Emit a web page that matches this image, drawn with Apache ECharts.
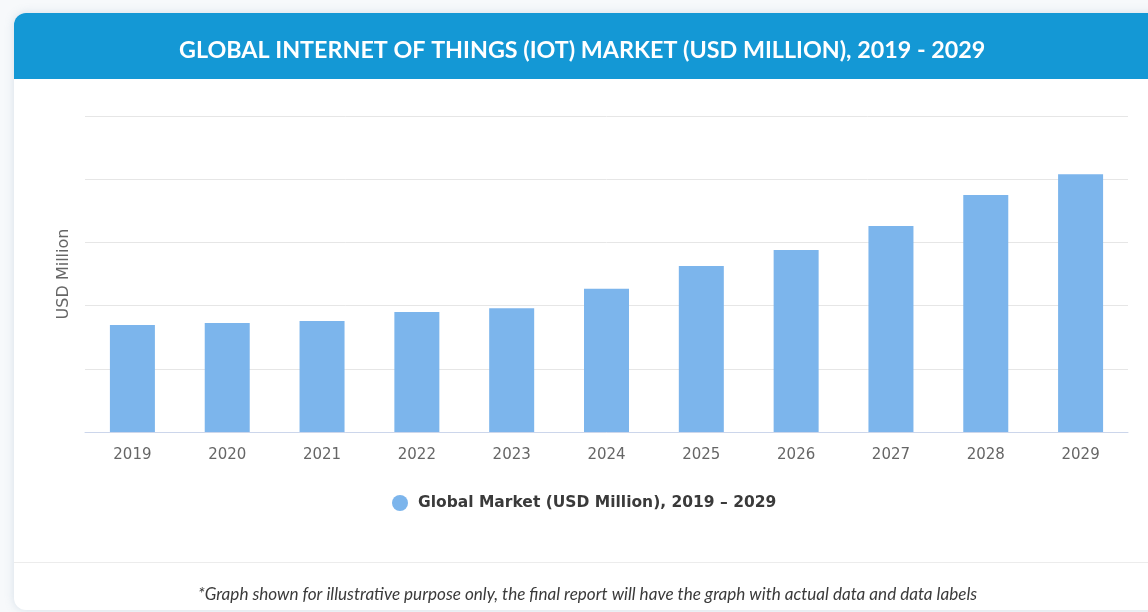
<!DOCTYPE html>
<html>
<head>
<meta charset="utf-8">
<script src="https://cdn.jsdelivr.net/npm/echarts@6/dist/echarts.min.js"></script>
<style>
html,body{margin:0;padding:0;background:#f7f9fb;}
#chart{width:1148px;height:612px;}
</style>
</head>
<body>
<div id="chart"></div>
<script>
const titleText = 'GLOBAL INTERNET OF THINGS (IOT) MARKET (USD MILLION), 2019 - 2029';
const footerText = '*Graph shown for illustrative purpose only, the final report will have the graph with actual data and data labels';
const yAxisName = 'USD Million';
const seriesName = 'Global Market (USD Million), 2019 – 2029';
const categories = ['2019','2020','2021','2022','2023','2024','2025','2026','2027','2028','2029'];
const values = [33.9, 34.5, 35.1, 38.0, 39.2, 45.3, 52.5, 57.6, 65.2, 75.0, 81.6];

const chart = echarts.init(document.getElementById('chart'), null, {renderer:'canvas'});
chart.setOption({
  animation:false,
  backgroundColor:'#f7f9fb',
  graphic:[
    {type:'rect', z:-10, shape:{x:14,y:13,width:1160,height:597,r:12},
     style:{fill:'#ffffff', shadowBlur:10, shadowColor:'rgba(120,150,180,0.25)'}},
    {type:'rect', z:-9, shape:{x:14,y:13,width:1160,height:66,r:[12,0,0,0]},
     style:{fill:'#1498d5'}},
    {type:'rect', z:-9, shape:{x:14,y:562,width:1160,height:1},
     style:{fill:'#ececec'}}
  ],
  title:[
    {text:titleText, left:174, top:34,
     textStyle:{color:'#ffffff', fontFamily:'Lato', fontWeight:'bold', fontSize:23.3}},
    {text:footerText, left:193, top:581,
     textStyle:{color:'#3a3a3a', fontFamily:'Lato', fontStyle:'italic', fontWeight:'normal', fontSize:17.1}}
  ],
  legend:{
    top:490, left:387,
    icon:'circle', itemWidth:16, itemHeight:16, itemGap:14,
    textStyle:{color:'#3a3a3a', fontFamily:'DejaVu Sans', fontSize:15.5, fontWeight:'bold', padding:[0,0,0,5]},
    data:[seriesName]
  },
  grid:{left:85, right:20, top:116, bottom:180, containLabel:false},
  xAxis:{
    type:'category', data:categories,
    axisLine:{lineStyle:{color:'#ccd6eb'}},
    axisTick:{show:false},
    axisLabel:{color:'#666666', fontFamily:'DejaVu Sans', fontSize:15, margin:16}
  },
  yAxis:{
    type:'value', min:0, max:100, interval:20,
    name:yAxisName, nameLocation:'middle', nameGap:13, nameRotate:90,
    nameTextStyle:{color:'#666666', fontFamily:'DejaVu Sans', fontSize:16},
    axisLabel:{show:false},
    axisLine:{show:false}, axisTick:{show:false},
    splitLine:{lineStyle:{color:'#e6e6e6'}}
  },
  series:[{
    name:seriesName, type:'bar', data:values, barWidth:45,
    itemStyle:{color:'#7cb5ec'}
  }]
});
</script>
</body>
</html>
